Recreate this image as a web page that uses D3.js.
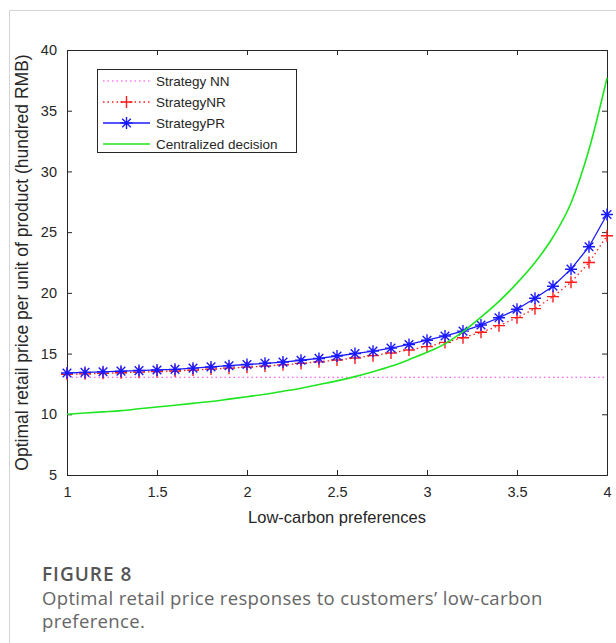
<!DOCTYPE html>
<html>
<head>
<meta charset="utf-8">
<script src="https://cdn.jsdelivr.net/npm/d3@7"></script>
<style>
  body { margin: 0; background: #fff; }
  svg { display: block; }
</style>
</head>
<body>
<svg id="chart" width="616" height="643"></svg>
<script>
// low-carbon preference, 1 to 4 in steps of 0.1
const prefs = [1.0, 1.1, 1.2, 1.3, 1.4, 1.5, 1.6, 1.7, 1.8, 1.9, 2.0, 2.1, 2.2, 2.3, 2.4, 2.5,
               2.6, 2.7, 2.8, 2.9, 3.0, 3.1, 3.2, 3.3, 3.4, 3.5, 3.6, 3.7, 3.8, 3.9, 4.0];

const priceNN = [13.05, 13.05, 13.05, 13.05, 13.05, 13.05, 13.05, 13.05, 13.05, 13.05, 13.05,
                 13.05, 13.05, 13.05, 13.05, 13.05, 13.05, 13.05, 13.05, 13.05, 13.05, 13.05,
                 13.05, 13.05, 13.05, 13.05, 13.05, 13.05, 13.05, 13.05, 13.05];
const priceNR = [13.3, 13.33, 13.37, 13.42, 13.47, 13.52, 13.57, 13.64, 13.72, 13.8, 13.88,
                 13.97, 14.07, 14.19, 14.32, 14.47, 14.64, 14.83, 15.05, 15.3, 15.57, 15.92,
                 16.3, 16.75, 17.3, 17.96, 18.7, 19.69, 20.87, 22.5, 24.7];
const pricePR = [13.4, 13.45, 13.5, 13.55, 13.6, 13.65, 13.7, 13.8, 13.9, 14.0, 14.1,
                 14.2, 14.3, 14.45, 14.6, 14.8, 15.0, 15.2, 15.45, 15.75, 16.1, 16.45,
                 16.85, 17.35, 17.95, 18.65, 19.55, 20.55, 21.95, 23.8, 26.45];
const priceCD = [10.0, 10.1, 10.2, 10.3, 10.45, 10.6, 10.75, 10.9, 11.05, 11.25, 11.45,
                 11.65, 11.9, 12.15, 12.45, 12.75, 13.1, 13.5, 13.95, 14.5, 15.1, 15.8,
                 16.8, 18.0, 19.3, 20.8, 22.5, 24.6, 27.4, 31.8, 37.7];

const xTicks = [1, 1.5, 2, 2.5, 3, 3.5, 4];
const yTicks = [5, 10, 15, 20, 25, 30, 35, 40];
const legendNames = ["Strategy NN", "StrategyNR", "StrategyPR", "Centralized decision"];

const svg = d3.select("#chart");

// card outline
svg.append("path")
    .attr("d", "M9.5,643 V10.5 H616")
    .attr("fill", "none")
    .attr("stroke", "#d4d4d4")
    .attr("stroke-width", 1);

const pLeft = 67, pRight = 607, pTop = 50, pBottom = 475;
const x = d3.scaleLinear().domain([1, 4]).range([pLeft, pRight]);
const y = d3.scaleLinear().domain([5, 40]).range([pBottom, pTop]);

const axisColor = "#262626";
const font = "'Liberation Sans', Arial, sans-serif";

// axes with inward ticks on all four sides
const gx = svg.append("g").attr("transform", `translate(0,${pBottom})`)
    .call(d3.axisBottom(x).tickValues(xTicks).tickSize(-5).tickPadding(12).tickFormat(d3.format("")));
const gxTop = svg.append("g").attr("transform", `translate(0,${pTop})`)
    .call(d3.axisTop(x).tickValues(xTicks).tickSize(-5).tickFormat(""));
const gy = svg.append("g").attr("transform", `translate(${pLeft},0)`)
    .call(d3.axisLeft(y).tickValues(yTicks).tickSize(-5).tickPadding(10));
const gyRight = svg.append("g").attr("transform", `translate(${pRight},0)`)
    .call(d3.axisRight(y).tickValues(yTicks).tickSize(-5).tickFormat(""));

[gx, gxTop, gy, gyRight].forEach(g => {
    g.select(".domain").attr("stroke", axisColor).attr("stroke-width", 1);
    g.selectAll(".tick line").attr("stroke", axisColor);
    g.selectAll(".tick text")
        .attr("fill", axisColor)
        .style("font-family", font)
        .style("font-size", "14.5px");
});

// axis titles
svg.append("text")
    .attr("x", (pLeft + pRight) / 2)
    .attr("y", 523)
    .attr("text-anchor", "middle")
    .attr("fill", axisColor)
    .style("font-family", font)
    .style("font-size", "16.5px")
    .text("Low-carbon preferences");

svg.append("text")
    .attr("transform", `translate(28,${(pTop + pBottom) / 2}) rotate(-90)`)
    .attr("text-anchor", "middle")
    .attr("fill", axisColor)
    .style("font-family", font)
    .style("font-size", "17.5px")
    .text("Optimal retail price per unit of product (hundred RMB)");

// series
const series = [
    { name: legendNames[0], values: priceNN, color: "#ff33ff", dash: "1.5,3", width: 1.2, marker: null },
    { name: legendNames[1], values: priceNR, color: "#ff1a1a", dash: "1.5,3", width: 1.3, marker: "plus" },
    { name: legendNames[2], values: pricePR, color: "#1a1aff", dash: null, width: 1.3, marker: "star" },
    { name: legendNames[3], values: priceCD, color: "#1ee61e", dash: null, width: 1.6, marker: null }
];

const plus = r => `M${-r},0H${r}M0,${-r}V${r}`;
const star = r => {
    const d = r * 0.72;
    return `M${-r},0H${r}M0,${-r}V${r}M${-d},${-d}L${d},${d}M${-d},${d}L${d},${-d}`;
};

const plot = svg.append("g");

series.forEach(s => {
    const line = d3.line()
        .x((d, i) => x(prefs[i]))
        .y(d => y(d))
        .curve(s.marker ? d3.curveLinear : d3.curveMonotoneX);

    plot.append("path")
        .datum(s.values)
        .attr("d", line)
        .attr("fill", "none")
        .attr("stroke", s.color)
        .attr("stroke-width", s.width)
        .attr("stroke-dasharray", s.dash);

    if (s.marker) {
        plot.append("g").selectAll("path")
            .data(s.values)
            .join("path")
            .attr("transform", (d, i) => `translate(${x(prefs[i])},${y(d)})`)
            .attr("d", s.marker === "plus" ? plus(6) : star(6))
            .attr("fill", "none")
            .attr("stroke", s.color)
            .attr("stroke-width", 1.4);
    }
});

// legend
const legend = svg.append("g");
legend.append("rect")
    .attr("x", 97.5).attr("y", 69.5)
    .attr("width", 199).attr("height", 83)
    .attr("fill", "#fff")
    .attr("stroke", axisColor)
    .attr("stroke-width", 1);

series.forEach((s, i) => {
    const ly = 81 + i * 21;
    legend.append("line")
        .attr("x1", 103).attr("x2", 150)
        .attr("y1", ly).attr("y2", ly)
        .attr("stroke", s.color)
        .attr("stroke-width", s.width)
        .attr("stroke-dasharray", s.dash);
    if (s.marker) {
        legend.append("path")
            .attr("transform", `translate(126.5,${ly})`)
            .attr("d", s.marker === "plus" ? plus(6) : star(6))
            .attr("fill", "none")
            .attr("stroke", s.color)
            .attr("stroke-width", 1.4);
    }
    legend.append("text")
        .attr("x", 156)
        .attr("y", ly)
        .attr("dy", "0.35em")
        .attr("fill", axisColor)
        .style("font-family", font)
        .style("font-size", "13.5px")
        .text(s.name);
});

// caption
const capFont = "'Open Sans', 'Noto Sans', sans-serif";
svg.append("text")
    .attr("x", 42).attr("y", 581)
    .attr("fill", "#555")
    .style("font-family", capFont)
    .style("font-size", "19px")
    .style("font-weight", 600)
    .style("letter-spacing", "1px")
    .text("FIGURE 8");

const captionLines = ["Optimal retail price responses to customers\u2019 low-carbon", "preference."];
captionLines.forEach((t, i) => {
    svg.append("text")
        .attr("x", 42).attr("y", 605 + i * 23)
        .attr("fill", "#666")
        .style("font-family", capFont)
        .style("font-size", "18.5px")
        .style("letter-spacing", "0.35px")
        .text(t);
});
</script>
</body>
</html>
